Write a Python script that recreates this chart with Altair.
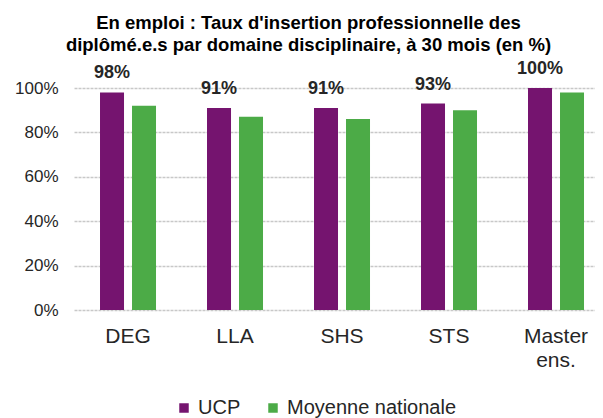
import altair as alt
import pandas as pd

categories = ["DEG", "LLA", "SHS", "STS", "Master ens."]
series = ["UCP", "Moyenne nationale"]
ucp_values = [98, 91, 91, 93, 100]
nat_values = [92, 87, 86, 90, 98]
y_ticks = [0, 0.2, 0.4, 0.6, 0.8, 1.0]
title_lines = ["En emploi :  Taux d'insertion professionnelle des",
               "diplômé.e.s par domaine disciplinaire, à 30 mois (en %)"]

rows = []
for c, u, n in zip(categories, ucp_values, nat_values):
    rows.append({"cat": c, "serie": series[0], "val": u / 100})
    rows.append({"cat": c, "serie": series[1], "val": n / 100})
df = pd.DataFrame(rows)

FONT = "Liberation Sans"
PURPLE = "#75146F"
GREEN = "#4CAB47"

x = alt.X("cat:N", sort=categories, title=None,
          scale=alt.Scale(domain=categories, paddingInner=0.4766, paddingOuter=0.1729, align=0.703),
          axis=alt.Axis(labelAngle=0, labelFontSize=21, labelFont=FONT, labelColor="#262626",
                        labelPadding=15, ticks=False, domain=False, labelLineHeight=24,
                        labelExpr="datum.label == 'Master ens.' ? ['Master', 'ens.'] : datum.label"))
xo = alt.XOffset("serie:N", sort=series,
                 scale=alt.Scale(domain=series, paddingInner=0.25, paddingOuter=0))

bars = alt.Chart(df).mark_bar().encode(
    x=x,
    xOffset=xo,
    y=alt.Y("val:Q", title=None,
            scale=alt.Scale(domain=[0, 1], nice=False),
            axis=alt.Axis(values=y_ticks, format=".0%", labelFontSize=17, labelFont=FONT,
                          labelColor="#262626", labelPadding=16, ticks=False, domain=False,
                          grid=True, gridColor="#c8c8c8", gridWidth=1.5, gridDash=[3, 1])),
    color=alt.Color("serie:N", sort=series,
                    scale=alt.Scale(domain=series, range=[PURPLE, GREEN]),
                    legend=alt.Legend(title=None, orient="none", legendX=100, legendY=310,
                                      direction="horizontal", symbolType="square",
                                      symbolSize=90, symbolStrokeWidth=0,
                                      labelFontSize=20, labelFont=FONT, labelColor="#262626",
                                      labelOffset=4, columnPadding=22, labelLimit=400)),
)

labels = alt.Chart(df).transform_filter(alt.datum.serie == "UCP").mark_text(
    fontSize=18, fontWeight="bold", font=FONT, color="#262626", baseline="alphabetic", dy=-14
).encode(
    x=x,
    xOffset=xo,
    y=alt.Y("val:Q"),
    text=alt.Text("val:Q", format=".0%"),
)

chart = alt.layer(bars, labels).properties(
    width=521, height=222,
    autosize=alt.AutoSizeParams(type="none"),
    padding={"left": 66, "top": 80, "right": 0, "bottom": 108},
    title=alt.TitleParams(text=title_lines, fontSize=18.5, fontWeight="bold", font=FONT,
                          color="#000000", anchor="middle", dx=-26, offset=6, lineHeight=22),
).configure_view(stroke=None)

chart.save("out.html", embed_options={"renderer": "svg", "actions": False})
